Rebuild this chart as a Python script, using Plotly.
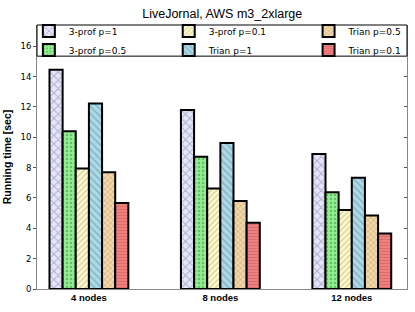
import plotly.graph_objects as go

categories = ["4 nodes", "8 nodes", "12 nodes"]
series_names = ["3-prof p=1", "3-prof p=0.5", "3-prof p=0.1", "Trian p=1", "Trian p=0.5", "Trian p=0.1"]
prof_p1 = [14.45, 11.8, 8.9]
prof_p05 = [10.4, 8.72, 6.38]
prof_p01 = [7.95, 6.62, 5.2]
trian_p1 = [12.23, 9.62, 7.33]
trian_p05 = [7.7, 5.8, 4.85]
trian_p01 = [5.67, 4.37, 3.65]
y_ticks = [0, 2, 4, 6, 8, 10, 12, 14, 16]

values = [prof_p1, prof_p05, prof_p01, trian_p1, trian_p05, trian_p01]
colors = ["#E6E6FA", "#90EE90", "#FFFACD", "#ADD8E6", "#F2D7A8", "#F08080"]
fgcolors = ["#7a7aa0", "#3f8f3f", "#a8a070", "#5f8fa0", "#a08458", "#c25656"]
shapes = ["x", ".", "/", "\\", "x", "-"]
sizes = [6, 4, 4, 5, 4, 3]
legend_ids = ["legend", "legend", "legend2", "legend2", "legend3", "legend3"]

fig = go.Figure()
for name, vals, c, fg, sh, sz, lg in zip(series_names, values, colors, fgcolors, shapes, sizes, legend_ids):
    fig.add_trace(go.Bar(
        x=categories, y=vals, name=name, legend=lg,
        marker=dict(color=c, line=dict(color="black", width=2),
                    pattern=dict(shape=sh, fgcolor=fg, size=sz, solidity=0.3)),
    ))

leg_common = dict(orientation="v", y=1.032, yanchor="top", xanchor="left",
                  bgcolor="rgba(0,0,0,0)", borderwidth=0, itemwidth=30, tracegroupgap=0,
                  font=dict(family="DejaVu Sans", size=9, color="black"))

fig.update_layout(
    width=415, height=312,
    margin=dict(l=37, r=8, t=25, b=23, autoexpand=False),
    paper_bgcolor="white", plot_bgcolor="white",
    barmode="group", bargap=0.4, bargroupgap=0,
    title=dict(text="LiveJornal, AWS m3_2xlarge", x=0.5355, xanchor="center", y=0.955, yanchor="middle",
               font=dict(family="Liberation Sans", size=12.5, color="black")),
    showlegend=True,
    legend=dict(x=-0.022, **leg_common),
    legend2=dict(x=0.356, **leg_common),
    legend3=dict(x=0.734, **leg_common),
    shapes=[dict(type="rect", xref="paper", yref="paper", x0=0, x1=1, y0=0.882, y1=1,
                 fillcolor="white", line=dict(color="black", width=1), layer="above")],
    xaxis=dict(range=[-0.395, 2.42], showline=True, linecolor="#888888", linewidth=1,
               ticks="", showgrid=False, zeroline=False, automargin=False,
               tickfont=dict(family="Liberation Sans", size=9.5, color="black", weight="bold")),
    yaxis=dict(range=[0, 17.4], tickvals=y_ticks, showline=True, linecolor="#888888", linewidth=1,
               mirror=True, ticks="outside", ticklen=3, tickcolor="#555555", showgrid=False, zeroline=False,
               automargin=False,
               tickfont=dict(family="DejaVu Sans", size=8.5, color="black"),
               title=dict(text="Running time [sec]", standoff=6,
                          font=dict(family="Liberation Sans", size=10.5, color="black", weight="bold"))),
    yaxis2=dict(range=[0, 17.4], tickvals=y_ticks, overlaying="y", side="right", matches="y",
                ticks="inside", ticklen=3, tickcolor="#555555", showticklabels=False,
                showgrid=False, zeroline=False, showline=False, automargin=False),
)
fig.add_trace(go.Scatter(x=[categories[0]], y=[0], yaxis="y2", mode="markers",
                         marker=dict(opacity=0), showlegend=False, hoverinfo="skip"))

fig.write_html("out.html", config={"displayModeBar": False},
               post_script="document.body.style.margin='0';")
